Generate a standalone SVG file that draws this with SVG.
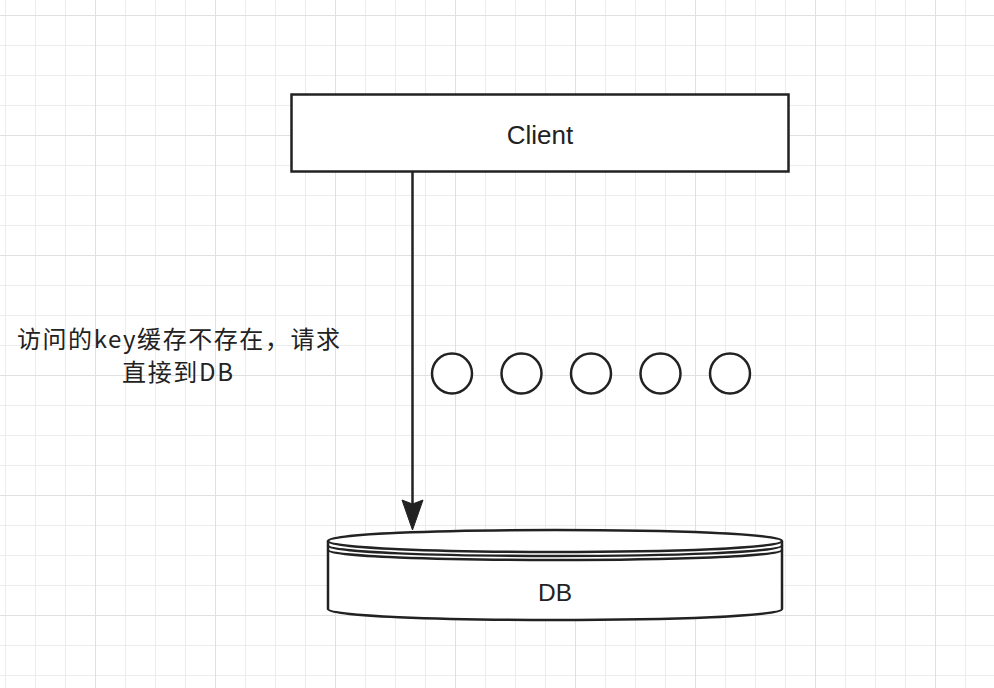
<svg xmlns="http://www.w3.org/2000/svg" width="994" height="688" viewBox="0 0 994 688">
  <defs>
    <pattern id="minor" x="5" y="15" width="30" height="30" patternUnits="userSpaceOnUse">
      <path d="M0,0 H30 M0,0 V30" fill="none" stroke="#ececec" stroke-width="2"/>
    </pattern>
    <pattern id="major" x="95" y="15" width="120" height="120" patternUnits="userSpaceOnUse">
      <path d="M0,0 H120 M0,0 V120" fill="none" stroke="#e0e0e0" stroke-width="2"/>
    </pattern>
  </defs>
  <style>
    .shape { fill: #ffffff; stroke: #222222; stroke-width: 2.5; }
    .line { fill: none; stroke: #222222; stroke-width: 2.5; }
    .lbl { font-family: "Liberation Sans", Arial, sans-serif; fill: #222222; text-anchor: middle; }
    .cjk { font-family: "Noto Sans CJK SC", "Noto Sans", sans-serif; fill: #222222; text-anchor: middle; font-size: 24px; }
  </style>
  <rect width="994" height="688" fill="#ffffff"/>
  <rect width="994" height="688" fill="url(#minor)"/>
  <rect width="994" height="688" fill="url(#major)"/>

  <g id="connectors">
    <path class="line" d="M412.5,172 V504"/>
    <path d="M412.5,530 L402,500 L412.5,504 L423,500 Z" fill="#222222" stroke="#222222" stroke-width="1" stroke-linejoin="miter"/>
  </g>

  <g id="client">
    <rect class="shape" x="291.5" y="94.5" width="497" height="77"/>
    <text class="lbl" x="540" y="144" font-size="26">Client</text>
  </g>

  <g id="db">
    <path class="shape" d="M328,541 C328,526.3 782,526.3 782,541 L782,609 C782,623.7 328,623.7 328,609 Z"/>
    <path class="line" d="M328,541 C328,555.7 782,555.7 782,541 M328,545.5 C328,559.5 782,559.5 782,545.5 M328,550 C328,563.3 782,563.3 782,550"/>
    <text class="lbl" x="555" y="601" font-size="24.5">DB</text>
  </g>

  <g id="dots">
    <circle class="shape" cx="452" cy="373.5" r="20"/>
    <circle class="shape" cx="521.5" cy="373.5" r="20"/>
    <circle class="shape" cx="591" cy="373.5" r="20"/>
    <circle class="shape" cx="660.5" cy="373.5" r="20"/>
    <circle class="shape" cx="730" cy="373.5" r="20"/>
  </g>

  <g id="note">
    <text class="cjk" x="178.5" y="347.5" textLength="323" lengthAdjust="spacing">访问的key缓存不存在，请求</text>
    <text class="cjk" x="177.5" y="380.5" textLength="111" lengthAdjust="spacing">直接到DB</text>
  </g>
</svg>
